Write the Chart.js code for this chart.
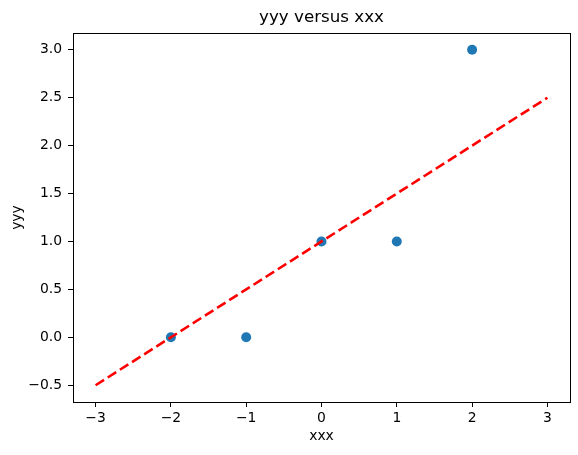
<!DOCTYPE html>
<html>
<head>
<meta charset="utf-8">
<script src="https://cdn.jsdelivr.net/npm/chart.js@4/dist/chart.umd.min.js"></script>
<style>
  body { margin: 0; background: #fff; }
</style>
</head>
<body>
<canvas id="fitChart" width="578" height="455"></canvas>
<script>
  // data points
  const xPts = [-2, -1, 0, 1, 2];
  const yPts = [0, 0, 1, 1, 3];
  // fitted line end points
  const fitX = [-3, 3];
  const fitY = [-0.5, 2.5];
  // tick labels
  const xTicks = [-3, -2, -1, 0, 1, 2, 3];
  const yTicks = [-0.5, 0, 0.5, 1, 1.5, 2, 2.5, 3];

  const fontFam = "'DejaVu Sans', sans-serif";

  function minus(s) {
    return String(s).replace('-', '\u2212');
  }

  // box around the axes, like matplotlib spines
  const frame = {
    id: 'frame',
    afterDatasetsDraw(chart) {
      const a = chart.chartArea;
      const c = chart.ctx;
      c.save();
      c.strokeStyle = '#000';
      c.lineWidth = 1;
      c.strokeRect(Math.round(a.left) + 0.5, Math.round(a.top) + 0.5,
        Math.round(a.right - a.left), Math.round(a.bottom - a.top));
      c.restore();
    }
  };

  const ctx = document.getElementById('fitChart').getContext('2d');
  const fitChart = new Chart(ctx, {
    type: 'scatter',
    data: {
      datasets: [
        {
          label: 'fit',
          data: fitX.map((x, i) => ({ x: x, y: fitY[i] })),
          showLine: true,
          borderColor: '#ff0000',
          borderWidth: 2.6,
          borderDash: [10, 4.4],
          pointRadius: 0,
          order: 0
        },
        {
          label: 'points',
          data: xPts.map((x, i) => ({ x: x, y: yPts[i] })),
          backgroundColor: '#1f77b4',
          borderColor: '#1f77b4',
          pointRadius: 5,
          borderWidth: 0,
          order: 1
        }
      ]
    },
    options: {
      responsive: false,
      animation: false,
      layout: { padding: { left: 0, right: 8, top: 0, bottom: 0 } },
      plugins: {
        legend: { display: false },
        tooltip: { enabled: false },
        title: {
          display: true,
          text: 'yyy versus xxx',
          color: '#000',
          fullSize: false,
          font: { family: fontFam, size: 16.7, weight: 'normal' },
          padding: { top: 8, bottom: 5 }
        }
      },
      scales: {
        x: {
          type: 'linear',
          min: -3.3,
          max: 3.3,
          afterBuildTicks: function(scale) {
            scale.ticks = xTicks.map(v => ({ value: v }));
          },
          afterFit: function(scale) { scale.height = 53; },
          border: { display: false },
          grid: { drawOnChartArea: false, drawTicks: true, tickLength: 5, color: '#000' },
          ticks: {
            color: '#000',
            padding: 3,
            maxRotation: 0,
            autoSkip: false,
            font: { family: fontFam, size: 13.9 },
            callback: function(value) { return minus(value); }
          },
          title: {
            display: true,
            text: 'xxx',
            color: '#000',
            font: { family: fontFam, size: 13.9 },
            padding: { top: 0, bottom: 10 }
          }
        },
        y: {
          type: 'linear',
          min: -0.675,
          max: 3.175,
          afterBuildTicks: function(scale) {
            scale.ticks = yTicks.map(v => ({ value: v }));
          },
          afterFit: function(scale) { scale.width = 73; },
          border: { display: false },
          grid: { drawOnChartArea: false, drawTicks: true, tickLength: 5, color: '#000' },
          ticks: {
            color: '#000',
            padding: 6,
            autoSkip: false,
            font: { family: fontFam, size: 13.9 },
            callback: function(value) { return minus(Number(value).toFixed(1)); }
          },
          title: {
            display: true,
            text: 'yyy',
            color: '#000',
            font: { family: fontFam, size: 13.9 },
            padding: { top: 9, bottom: 0 }
          }
        }
      }
    },
    plugins: [frame]
  });
</script>
</body>
</html>
